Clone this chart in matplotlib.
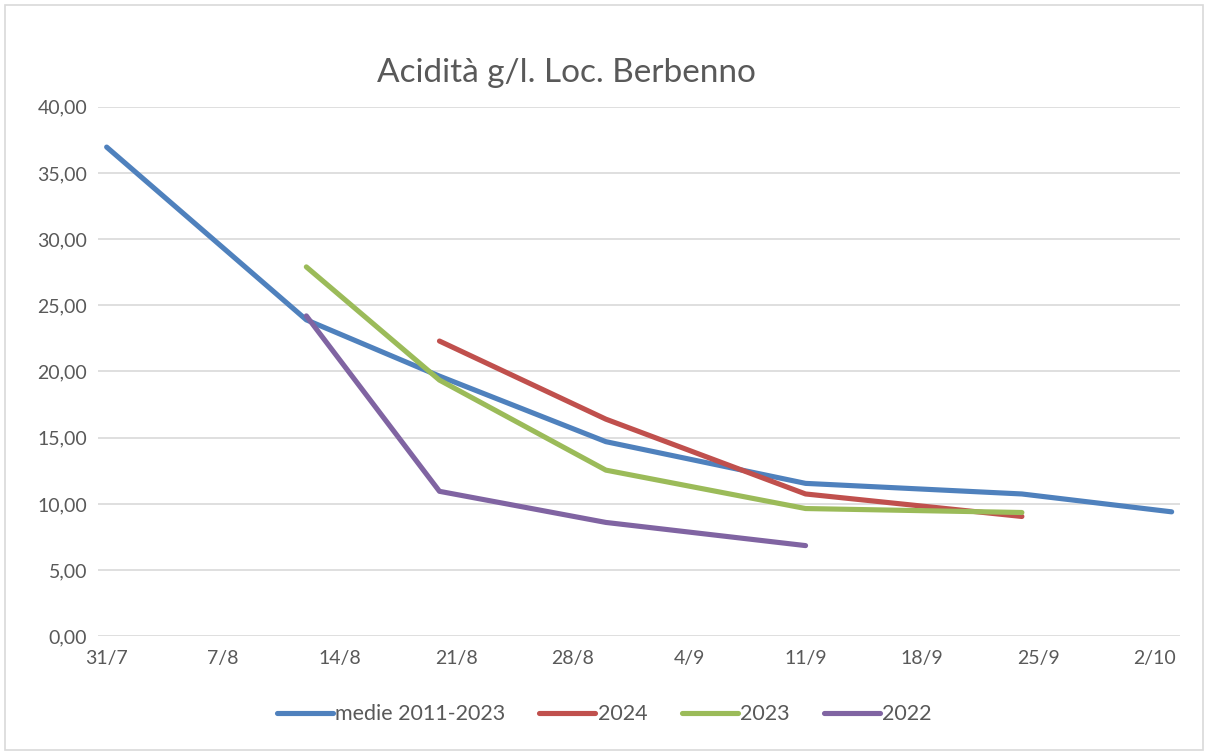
import datetime as dt
import matplotlib
matplotlib.use("Agg")
import matplotlib.pyplot as plt
from matplotlib.patches import Rectangle

# dati (giorno/mese)
date_medie = ["31/7", "12/8", "20/8", "30/8", "11/9", "24/9", "3/10"]
medie = [36.95, 23.9, 19.65, 14.7, 11.55, 10.75, 9.4]

date_2024 = ["20/8", "30/8", "11/9", "24/9"]
val_2024 = [22.3, 16.4, 10.75, 9.05]

date_2023 = ["12/8", "20/8", "30/8", "11/9", "24/9"]
val_2023 = [27.9, 19.35, 12.55, 9.65, 9.35]

date_2022 = ["12/8", "20/8", "30/8", "11/9"]
val_2022 = [24.2, 10.95, 8.6, 6.85]

tick_labels = ["31/7", "7/8", "14/8", "21/8", "28/8", "4/9", "11/9", "18/9", "25/9", "2/10"]

origine = dt.date(2024, 7, 31)


def giorni(lista):
    out = []
    for s in lista:
        d, m = s.split("/")
        out.append((dt.date(2024, int(m), int(d)) - origine).days)
    return out


plt.rcParams['font.family'] = ['Lato', 'DejaVu Sans']

fig = plt.figure(figsize=(12.08, 7.54), dpi=100)
ax = fig.add_axes([0.0814, 0.1561, 0.9768 - 0.0814, 0.8585 - 0.1561])

serie = [
    ("medie 2011-2023", date_medie, medie, "#4F81BD"),
    ("2024", date_2024, val_2024, "#C0504D"),
    ("2023", date_2023, val_2023, "#9BBB59"),
    ("2022", date_2022, val_2022, "#8064A2"),
]
for nome, dd, vv, col in serie:
    ax.plot(giorni(dd), vv, color=col, lw=3.7, label=nome,
            solid_capstyle="round", solid_joinstyle="round", zorder=3)

ax.set_xlim(-0.5, 64.5)
ax.set_ylim(0, 40)
ax.set_yticks(range(0, 41, 5))
ax.set_yticklabels([f"{v},00" for v in range(0, 41, 5)])
ax.set_xticks(giorni(tick_labels))
ax.set_xticklabels(tick_labels)

ax.grid(axis="y", color="#d9d9d9", lw=1.2)
ax.set_axisbelow(True)
for s in ax.spines.values():
    s.set_visible(False)
ax.tick_params(length=0, labelsize=14, colors="#595959", pad=10)
ax.tick_params(axis="y", pad=8)

fig.text(0.4685, 0.903, "Acidità g/l. Loc. Berbenno", ha="center", va="center",
         fontsize=24, color="#595959")

leg = fig.legend(loc="center", bbox_to_anchor=(0.5, 0.053), ncol=4, frameon=False,
                 fontsize=15.5, handlelength=2.6, handletextpad=0.1, columnspacing=1.6)
for t in leg.get_texts():
    t.set_color("#595959")

fig.patches.append(Rectangle((0.004, 0.005), 0.992, 0.988, transform=fig.transFigure,
                             fill=False, edgecolor="#d9d9d9", lw=1.2))

fig.savefig("out.png", dpi=100)
